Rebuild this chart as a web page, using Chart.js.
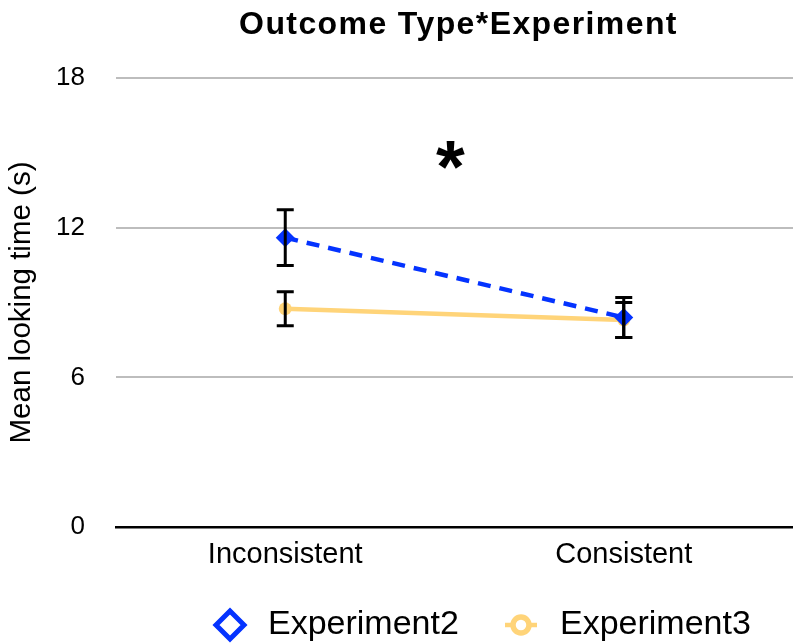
<!DOCTYPE html>
<html>
<head>
<meta charset="utf-8">
<script src="https://cdn.jsdelivr.net/npm/chart.js@4/dist/chart.umd.min.js"></script>
<style>
  html, body { margin: 0; padding: 0; background: #fff; }
  #wrap { width: 793px; height: 643px; }
</style>
</head>
<body>
<div id="wrap"><canvas id="c" width="793" height="643"></canvas></div>
<script>
// Mean looking time by outcome type, per experiment
const categories = ['Inconsistent', 'Consistent'];
const seriesNames = ['Experiment2', 'Experiment3'];
const exp2Means = [11.6, 8.4];
const exp2Errors = [1.12, 0.8];
const exp3Means = [8.75, 8.3];
const exp3Errors = [0.68, 0.7];
const yTicks = [0, 6, 12, 18];
const chartTitle = 'Outcome Type*Experiment';
const yAxisTitle = 'Mean looking time (s)';
const sigMark = '*';
const sigValue = 14.9;

const BLUE = '#0433FF';
const YELLOW = '#FFD479';
const FONT = '"Liberation Sans", Arial, Helvetica, sans-serif';

// Standard-error whiskers, heading text, significance mark and legend
const decorations = {
  id: 'decorations',
  afterDatasetsDraw(chart) {
    const ctx = chart.ctx;
    const x = chart.scales.x, y = chart.scales.y;
    const sets = [
      { means: exp2Means, errs: exp2Errors },
      { means: exp3Means, errs: exp3Errors }
    ];
    ctx.save();
    ctx.strokeStyle = '#000';
    ctx.lineWidth = 3;
    ctx.lineCap = 'butt';
    const cap = 8.5;
    sets.forEach(s => {
      s.means.forEach((m, i) => {
        const px = x.getPixelForValue(i);
        const top = y.getPixelForValue(m + s.errs[i]);
        const bot = y.getPixelForValue(m - s.errs[i]);
        ctx.beginPath();
        ctx.moveTo(px, top); ctx.lineTo(px, bot);
        ctx.moveTo(px - cap, top); ctx.lineTo(px + cap, top);
        ctx.moveTo(px - cap, bot); ctx.lineTo(px + cap, bot);
        ctx.stroke();
      });
    });
    ctx.restore();
  },
  afterDraw(chart) {
    const ctx = chart.ctx;
    const area = chart.chartArea;
    const cx = (area.left + area.right) / 2;

    // heading
    ctx.save();
    ctx.fillStyle = '#000';
    ctx.font = 'bold 32px ' + FONT;
    ctx.letterSpacing = '1.4px';
    ctx.textAlign = 'center';
    ctx.textBaseline = 'alphabetic';
    ctx.fillText(chartTitle, cx + 4, 34);
    ctx.restore();

    // significance mark
    ctx.save();
    ctx.fillStyle = '#000';
    ctx.font = 'bold 74px ' + FONT;
    ctx.textAlign = 'center';
    ctx.textBaseline = 'alphabetic';
    const mm = ctx.measureText(sigMark);
    const sy = chart.scales.y.getPixelForValue(sigValue);
    const off = (mm.actualBoundingBoxAscent - mm.actualBoundingBoxDescent) / 2;
    ctx.fillText(sigMark, cx - 4, sy + off);
    ctx.restore();

    // legend
    const ly = 625;
    ctx.save();
    ctx.font = '34px ' + FONT;
    ctx.fillStyle = '#000';
    ctx.textBaseline = 'middle';
    ctx.textAlign = 'left';

    // Experiment2: hollow diamond
    const dx = 230, d = 14;
    ctx.strokeStyle = BLUE;
    ctx.lineWidth = 5;
    ctx.lineJoin = 'miter';
    ctx.beginPath();
    ctx.moveTo(dx - d, ly); ctx.lineTo(dx, ly - d);
    ctx.lineTo(dx + d, ly); ctx.lineTo(dx, ly + d);
    ctx.closePath();
    ctx.stroke();
    ctx.fillText(seriesNames[0], 268, ly);

    // Experiment3: line with hollow circle
    const ox = 521;
    ctx.strokeStyle = YELLOW;
    ctx.lineWidth = 4.5;
    ctx.beginPath();
    ctx.moveTo(ox - 16, ly); ctx.lineTo(ox + 16, ly);
    ctx.stroke();
    ctx.lineWidth = 5.5;
    ctx.fillStyle = '#fff';
    ctx.beginPath();
    ctx.arc(ox, ly, 8, 0, Math.PI * 2);
    ctx.fill();
    ctx.stroke();
    ctx.fillStyle = '#000';
    ctx.fillText(seriesNames[1], 560, ly);
    ctx.restore();
  }
};

new Chart(document.getElementById('c'), {
  type: 'line',
  data: {
    labels: categories,
    datasets: [
      {
        label: seriesNames[0],
        data: exp2Means,
        borderColor: BLUE,
        backgroundColor: BLUE,
        borderWidth: 4.5,
        borderDash: [13, 9],
        pointStyle: 'rectRot',
        pointRadius: 9.5,
        pointBorderWidth: 0,
        pointBackgroundColor: BLUE,
        tension: 0,
        fill: false
      },
      {
        label: seriesNames[1],
        data: exp3Means,
        borderColor: YELLOW,
        backgroundColor: YELLOW,
        borderWidth: 4.5,
        pointStyle: 'circle',
        pointRadius: 6.5,
        pointBorderWidth: 0,
        pointBackgroundColor: YELLOW,
        tension: 0,
        fill: false
      }
    ]
  },
  options: {
    responsive: false,
    animation: false,
    devicePixelRatio: 1,
    layout: { autoPadding: false, padding: { top: 78, right: 0, left: 0, bottom: 0 } },
    plugins: {
      legend: { display: false },
      title: { display: false },
      tooltip: { enabled: false }
    },
    scales: {
      x: {
        offset: true,
        grid: { display: false, drawTicks: false },
        border: { display: true, color: '#000', width: 2.5 },
        ticks: {
          color: '#000',
          font: { family: FONT, size: 29 },
          padding: 11,
          maxRotation: 0
        },
        afterFit(scale) {
          scale.height = 116;
          scale.paddingLeft = 0;
          scale.paddingRight = 0;
        }
      },
      y: {
        min: 0,
        max: 18,
        afterBuildTicks(scale) { scale.ticks = yTicks.map(v => ({ value: v })); },
        grid: {
          color: ctx => ctx.tick && ctx.tick.value === 0 ? 'rgba(0,0,0,0)' : '#BDBDBD',
          lineWidth: 2,
          drawTicks: false
        },
        border: { display: false },
        ticks: {
          color: '#000',
          font: { family: FONT, size: 26 },
          padding: 31
        },
        title: {
          display: true,
          text: yAxisTitle,
          color: '#000',
          font: { family: FONT, size: 29.5 },
          padding: { top: 4, bottom: 0 }
        },
        afterFit(scale) { scale.width = 116; }
      }
    }
  },
  plugins: [decorations]
});
</script>
</body>
</html>
